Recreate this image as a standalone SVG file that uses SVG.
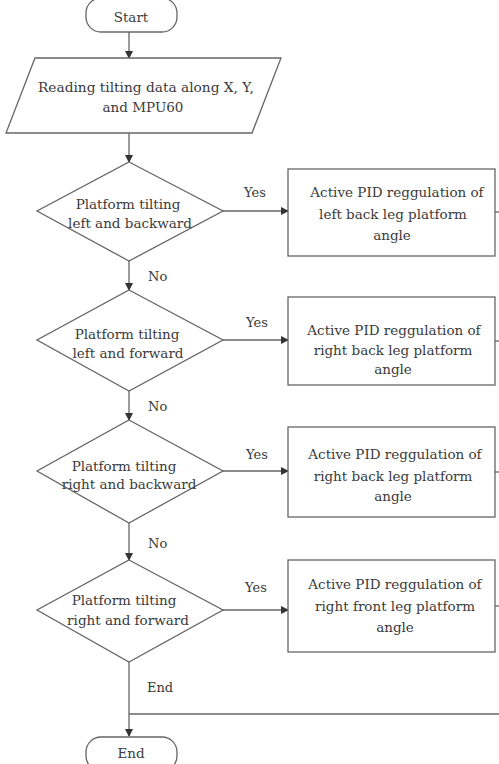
<svg xmlns="http://www.w3.org/2000/svg" width="499" height="764" viewBox="0 0 499 764">
<defs>
<marker id="ah" markerWidth="8" markerHeight="8" refX="7" refY="4" orient="auto" markerUnits="userSpaceOnUse">
<path d="M0,0 L8,4 L0,8 Z" fill="#333"/>
</marker>
<style>
.s{fill:#fff;stroke:#666;stroke-width:1.3}
.c{fill:none;stroke:#666;stroke-width:1.3}
.t{font-family:"DejaVu Serif","Liberation Serif",serif;font-size:13.5px;fill:#3a3a3a;text-anchor:middle}
.l{font-family:"DejaVu Serif","Liberation Serif",serif;font-size:13px;fill:#3a3a3a}
</style>
</defs>
<rect width="499" height="764" fill="#fff"/>
<g id="connectors">
<line class="c" x1="129" y1="32" x2="129" y2="58" marker-end="url(#ah)"/>
<line class="c" x1="129" y1="133" x2="129" y2="162" marker-end="url(#ah)"/>
<line class="c" x1="223" y1="211" x2="288" y2="211" marker-end="url(#ah)"/>
<line class="c" x1="129" y1="261" x2="129" y2="290" marker-end="url(#ah)"/>
<line class="c" x1="223" y1="340" x2="288" y2="340" marker-end="url(#ah)"/>
<line class="c" x1="129" y1="391" x2="129" y2="420" marker-end="url(#ah)"/>
<line class="c" x1="223" y1="471" x2="288" y2="471" marker-end="url(#ah)"/>
<line class="c" x1="129" y1="523" x2="129" y2="560" marker-end="url(#ah)"/>
<line class="c" x1="223" y1="610" x2="288" y2="610" marker-end="url(#ah)"/>
<line class="c" x1="129" y1="662" x2="129" y2="736" marker-end="url(#ah)"/>
<line class="c" x1="129" y1="714" x2="499" y2="714"/>
<line class="c" x1="495" y1="212" x2="499" y2="212"/>
<line class="c" x1="495" y1="341" x2="499" y2="341"/>
<line class="c" x1="495" y1="472" x2="499" y2="472"/>
<line class="c" x1="495" y1="606" x2="499" y2="606"/>
<text class="l" x="244" y="197">Yes</text>
<text class="l" x="246" y="327">Yes</text>
<text class="l" x="246" y="459">Yes</text>
<text class="l" x="245" y="592">Yes</text>
<text class="l" x="148" y="281">No</text>
<text class="l" x="148" y="411">No</text>
<text class="l" x="148" y="548">No</text>
<text class="l" x="147" y="692">End</text>
</g>
<g id="start">
<rect class="s" x="86" y="-2" width="91" height="34" rx="15"/>
<text class="t" x="131" y="22">Start</text>
</g>
<g id="read">
<polygon class="s" points="35,58 281,58 252,133 6,133"/>
<text class="t" x="146" y="92" textLength="216" lengthAdjust="spacingAndGlyphs">Reading tilting data along X, Y,</text>
<text class="t" x="143" y="112">and MPU60</text>
</g>
<g id="d1">
<polygon class="s" points="129,162 223,211 129,261 37,211"/>
<text class="t" x="128" y="209">Platform tilting</text>
<text class="t" x="130" y="228">left and backward</text>
</g>
<g id="b1">
<rect class="s" x="288" y="169" width="207" height="87"/>
<text class="t" x="397" y="197">Active PID reggulation of</text>
<text class="t" x="393" y="219">left back leg platform</text>
<text class="t" x="392" y="240">angle</text>
</g>
<g id="d2">
<polygon class="s" points="129,290 223,340 129,391 37,340"/>
<text class="t" x="127" y="339">Platform tilting</text>
<text class="t" x="128" y="358">left and forward</text>
</g>
<g id="b2">
<rect class="s" x="288" y="297" width="207" height="88"/>
<text class="t" x="394" y="335">Active PID reggulation of</text>
<text class="t" x="393" y="355">right back leg platform</text>
<text class="t" x="393" y="374">angle</text>
</g>
<g id="d3">
<polygon class="s" points="129,420 223,471 129,523 37,471"/>
<text class="t" x="124" y="471">Platform tilting</text>
<text class="t" x="129" y="489">right and backward</text>
</g>
<g id="b3">
<rect class="s" x="288" y="427" width="207" height="90"/>
<text class="t" x="395" y="459">Active PID reggulation of</text>
<text class="t" x="393" y="481">right back leg platform</text>
<text class="t" x="393" y="501">angle</text>
</g>
<g id="d4">
<polygon class="s" points="129,560 223,610 129,662 37,610"/>
<text class="t" x="124" y="605">Platform tilting</text>
<text class="t" x="128" y="625">right and forward</text>
</g>
<g id="b4">
<rect class="s" x="288" y="560" width="207" height="92"/>
<text class="t" x="395" y="589">Active PID reggulation of</text>
<text class="t" x="395" y="611">right front leg platform</text>
<text class="t" x="395" y="632">angle</text>
</g>
<g id="end">
<rect class="s" x="86" y="737" width="91" height="34" rx="15"/>
<text class="t" x="131" y="758">End</text>
</g>
</svg>
